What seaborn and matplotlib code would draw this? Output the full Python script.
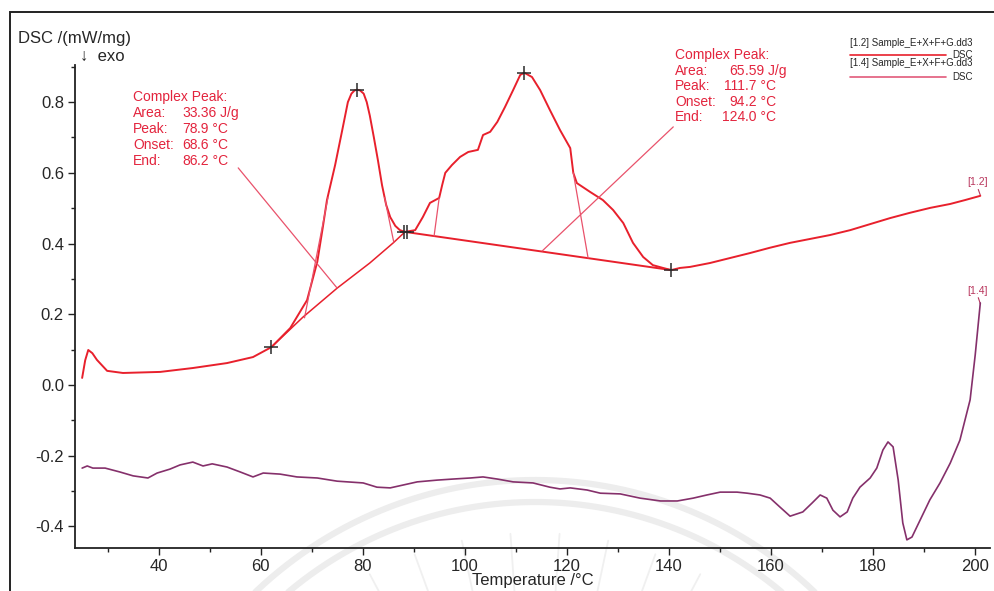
import numpy as np
import matplotlib
matplotlib.use("Agg")
import matplotlib.pyplot as plt
import seaborn as sns
from matplotlib.lines import Line2D
from matplotlib.patches import Rectangle
from matplotlib.ticker import MultipleLocator

# ---------------------------------------------------------------- data
# DSC trace [1.2]  (temperature in degC, heat flow in mW/mg)
temp_12 = [25.0, 25.6, 26.2, 27.0, 27.9, 29.9, 33.0, 40.3, 46.7, 53.4, 58.5, 62.1,
           65.8, 69.1, 71.1, 72.2, 73.0, 74.6, 76.0, 77.1, 77.8, 78.4, 78.9, 79.5,
           80.2, 80.8, 81.4, 82.2, 83.0, 83.8, 84.6, 85.4, 86.4, 87.3, 88.3, 90.3,
           91.8, 93.2, 95.0, 95.6, 96.2, 97.5, 99.1, 100.7, 102.6, 103.6, 105.0,
           106.4, 107.9, 109.5, 110.9, 111.7, 113.2, 114.8, 116.7, 118.7, 120.7,
           121.3, 122.0, 124.6, 127.1, 129.1, 131.1, 133.0, 135.0, 136.9, 138.9,
           140.5, 142.2, 144.2, 148.1, 152.0, 155.9, 159.8, 163.8, 167.7, 171.6,
           175.6, 179.5, 183.4, 187.3, 191.3, 195.2, 198.1, 201.1]
dsc_12 = [0.020, 0.070, 0.099, 0.090, 0.071, 0.040, 0.034, 0.037, 0.048, 0.062, 0.079, 0.107,
          0.161, 0.240, 0.348, 0.447, 0.523, 0.622, 0.721, 0.800, 0.824, 0.833, 0.835, 0.833,
          0.824, 0.800, 0.762, 0.700, 0.635, 0.565, 0.510, 0.475, 0.450, 0.438, 0.433, 0.438,
          0.475, 0.515, 0.529, 0.566, 0.600, 0.622, 0.645, 0.659, 0.665, 0.707, 0.716,
          0.744, 0.786, 0.834, 0.877, 0.883, 0.871, 0.834, 0.778, 0.721, 0.670,
          0.600, 0.571, 0.546, 0.523, 0.495, 0.458, 0.402, 0.362, 0.339, 0.331,
          0.325, 0.331, 0.334, 0.345, 0.359, 0.373, 0.388, 0.402, 0.413, 0.424,
          0.438, 0.455, 0.472, 0.487, 0.501, 0.512, 0.523, 0.535]

# DSC trace [1.4]
temp_14 = [25.0, 26.0, 27.1, 29.5, 32.4, 35.0, 37.9, 39.7, 42.2, 44.2, 46.7, 48.7,
           50.5, 53.4, 56.0, 58.5, 60.5, 63.8, 67.1, 71.1, 75.0, 80.1, 82.8, 85.4,
           87.9, 90.7, 94.6, 97.7, 101.1, 103.6, 106.4, 109.5, 113.4, 116.7, 118.7,
           120.7, 124.0, 126.6, 130.5, 134.4, 138.4, 141.7, 144.8, 147.5, 150.1,
           153.4, 155.4, 157.9, 159.9, 161.8, 163.8, 166.3, 168.1, 169.7, 171.0,
           172.2, 173.6, 175.0, 176.1, 177.5, 179.5, 180.8, 182.0, 183.0, 184.0,
           185.0, 185.9, 186.7, 187.7, 189.3, 191.2, 193.2, 195.2, 197.1, 198.1,
           199.1, 200.1, 201.1]
dsc_14 = [-0.235, -0.229, -0.235, -0.235, -0.246, -0.257, -0.263, -0.249, -0.238, -0.226,
          -0.218, -0.229, -0.223, -0.232, -0.246, -0.260, -0.249, -0.252, -0.260, -0.263,
          -0.272, -0.277, -0.289, -0.291, -0.283, -0.274, -0.269, -0.266, -0.263, -0.260,
          -0.266, -0.274, -0.277, -0.289, -0.294, -0.291, -0.297, -0.306, -0.308, -0.320,
          -0.328, -0.328, -0.320, -0.311, -0.303, -0.303, -0.306, -0.311, -0.320, -0.345,
          -0.371, -0.359, -0.334, -0.311, -0.320, -0.354, -0.373, -0.359, -0.320, -0.289,
          -0.263, -0.235, -0.184, -0.161, -0.175, -0.269, -0.390, -0.438, -0.430, -0.382,
          -0.325, -0.277, -0.221, -0.156, -0.099, -0.042, 0.085, 0.232]

# peak evaluation: limits and maxima marked with crosses
mark_T = [62.1, 78.9, 88.2, 88.6, 111.7, 140.5]
mark_v = [0.107, 0.835, 0.433, 0.433, 0.883, 0.325]

# baselines of the two complex peaks
base1_T = [62.1, 68.3, 75.0, 81.4, 86.0, 88.3]
base1_v = [0.107, 0.192, 0.274, 0.345, 0.402, 0.433]
base2_T = [88.3, 140.5]
base2_v = [0.433, 0.325]

# onset / end construction lines
onset1_T, onset1_v = [68.6, 73.2], [0.190, 0.530]
end1_T, end1_v = [84.3, 86.1], [0.530, 0.404]
onset2_T, onset2_v = [95.0, 94.0], [0.529, 0.421]
end2_T, end2_v = [121.3, 124.2], [0.600, 0.359]

# evaluation results
peak_fields = ["Area:", "Peak:", "Onset:", "End:"]
peak1_values = ["33.36 J/g", "78.9 \u00b0C", "68.6 \u00b0C", "86.2 \u00b0C"]
peak2_values = ["65.59 J/g", "111.7 \u00b0C", "94.2 \u00b0C", "124.0 \u00b0C"]

legend_files = ["[1.2] Sample_E+X+F+G.dd3", "[1.4] Sample_E+X+F+G.dd3"]
curve_tags = ["[1.2]", "[1.4]"]

x_ticks = [40, 60, 80, 100, 120, 140, 160, 180, 200]
y_ticks = [-0.4, -0.2, 0.0, 0.2, 0.4, 0.6, 0.8]

# ---------------------------------------------------------------- style
RED = "#e8202c"
PURPLE = "#85306b"
TXT_RED = "#e3243d"
THIN = "#e9526b"
TAG = "#b8355c"

sns.set_theme(style="white")
plt.rcParams["font.family"] = ["Liberation Sans", "DejaVu Sans"]
plt.rcParams["axes.unicode_minus"] = False

W, H = 995, 591
fig = plt.figure(figsize=(W / 100, H / 100), dpi=100)
fig.patch.set_facecolor("white")


def fx(px):
    return px / W


def fy(py):
    return 1 - py / H


# faint seal in the background
cx, cy = 535, 885
for r in (405, 383):
    ang = np.linspace(np.deg2rad(20), np.deg2rad(160), 400)
    xs = cx + r * np.cos(ang)
    ys = cy - r * np.sin(ang)
    fig.add_artist(Line2D(fx(xs), fy(ys), color="#ededed", lw=4.5, zorder=0,
                          transform=fig.transFigure))
for a in np.arange(62, 122, 8):
    t = np.deg2rad(a)
    r0, r1 = 290, 352
    fig.add_artist(Line2D(fx(np.array([cx + r0 * np.cos(t), cx + r1 * np.cos(t)])),
                          fy(np.array([cy - r0 * np.sin(t), cy - r1 * np.sin(t)])),
                          color="#f0f0f0", lw=1.3, zorder=0, transform=fig.transFigure))

# outer frame
fig.add_artist(Rectangle((fx(10), -0.05), 1.2, fy(12) + 0.05, fill=False,
                         edgecolor="#222222", lw=1.4, transform=fig.transFigure, zorder=1))

ax = fig.add_axes([fx(75), fy(548), fx(990) - fx(75), fy(65) - fy(548)])
ax.set_facecolor("none")

# curves
sns.lineplot(x=temp_14, y=dsc_14, ax=ax, color=PURPLE, lw=1.2, sort=False,
             estimator=None, legend=False, zorder=3)
sns.lineplot(x=temp_12, y=dsc_12, ax=ax, color=RED, lw=1.4, sort=False,
             estimator=None, legend=False, zorder=4)

# evaluation construction
for xs, ys, lw, col in [(base1_T, base1_v, 1.1, RED), (base2_T, base2_v, 1.4, RED),
                        (onset1_T, onset1_v, 0.9, THIN), (end1_T, end1_v, 0.9, THIN),
                        (onset2_T, onset2_v, 0.9, THIN), (end2_T, end2_v, 0.9, THIN)]:
    sns.lineplot(x=xs, y=ys, ax=ax, color=col, lw=lw, sort=False,
                 estimator=None, legend=False, zorder=4)

# leader lines from result boxes
ax.plot([55.6, 75.0], [0.614, 0.274], color=THIN, lw=0.9, zorder=4)
ax.plot([140.9, 115.2], [0.730, 0.379], color=THIN, lw=0.9, zorder=4)

sns.scatterplot(x=mark_T, y=mark_v, ax=ax, marker="+", s=90, color="#2a2a2a",
                linewidth=1.1, zorder=6, legend=False)


def result_box(x_lab, x_dec, y_top, dy, values):
    ax.text(x_lab, y_top, "Complex Peak:", color=TXT_RED, fontsize=10,
            va="center", ha="left", zorder=7)
    for i, (f, v) in enumerate(zip(peak_fields, values)):
        y = y_top - (i + 1) * dy
        ax.text(x_lab, y, f, color=TXT_RED, fontsize=10, va="center", ha="left", zorder=7)
        whole, rest = v.split(".", 1)
        ax.text(x_dec, y, whole, color=TXT_RED, fontsize=10, va="center", ha="right", zorder=7)
        ax.text(x_dec, y, "." + rest, color=TXT_RED, fontsize=10, va="center", ha="left", zorder=7)


result_box(35.0, 47.6, 0.815, 0.0453, peak1_values)
result_box(141.3, 155.0, 0.933, 0.0440, peak2_values)

# curve tags at the right end
ax.text(200.6, 0.573, curve_tags[0], color=TAG, fontsize=7.5, ha="center", va="center")
ax.plot([200.7, 201.1], [0.553, 0.537], color=TAG, lw=0.8)
ax.text(200.6, 0.265, curve_tags[1], color=TAG, fontsize=7.5, ha="center", va="center")
ax.plot([200.7, 201.1], [0.247, 0.230], color=TAG, lw=0.8)

# axes
ax.set_xlim(23.6, 203.0)
ax.set_ylim(-0.461, 0.905)
ax.set_xticks(x_ticks)
ax.set_yticks(y_ticks)
ax.set_yticklabels([f"{v:.1f}" for v in y_ticks])
ax.xaxis.set_minor_locator(MultipleLocator(10))
ax.yaxis.set_minor_locator(MultipleLocator(0.1))
ax.tick_params(which="both", bottom=True, left=True, direction="out",
               color="#222222", width=1.0)
ax.tick_params(which="major", length=5, labelsize=12, pad=3)
ax.tick_params(which="minor", length=3)
for s in ("top", "right"):
    ax.spines[s].set_visible(False)
for s in ("left", "bottom"):
    ax.spines[s].set_color("#222222")
    ax.spines[s].set_linewidth(1.3)
ax.set_xlabel("Temperature /\u00b0C", fontsize=12, labelpad=-1)
ax.set_ylabel("")

fig.text(fx(18), fy(38), "DSC /(mW/mg)", fontsize=12, va="center", ha="left")
fig.text(fx(80), fy(56), "\u2193  exo", fontsize=12, va="center", ha="left")

# file legend
for i, (name, col) in enumerate(zip(legend_files, [RED, "#e25a7a"])):
    yt, yl = 43.5 + i * 19.5, 54.5 + i * 22.5
    fig.text(fx(850), fy(yt), name, fontsize=7, va="center", ha="left")
    fig.add_artist(Line2D([fx(850), fx(946)], [fy(yl), fy(yl)], color=col, lw=1.2,
                          transform=fig.transFigure))
    fig.text(fx(973), fy(yl), "DSC", fontsize=7, va="center", ha="right")

fig.savefig("out.png", dpi=100)
